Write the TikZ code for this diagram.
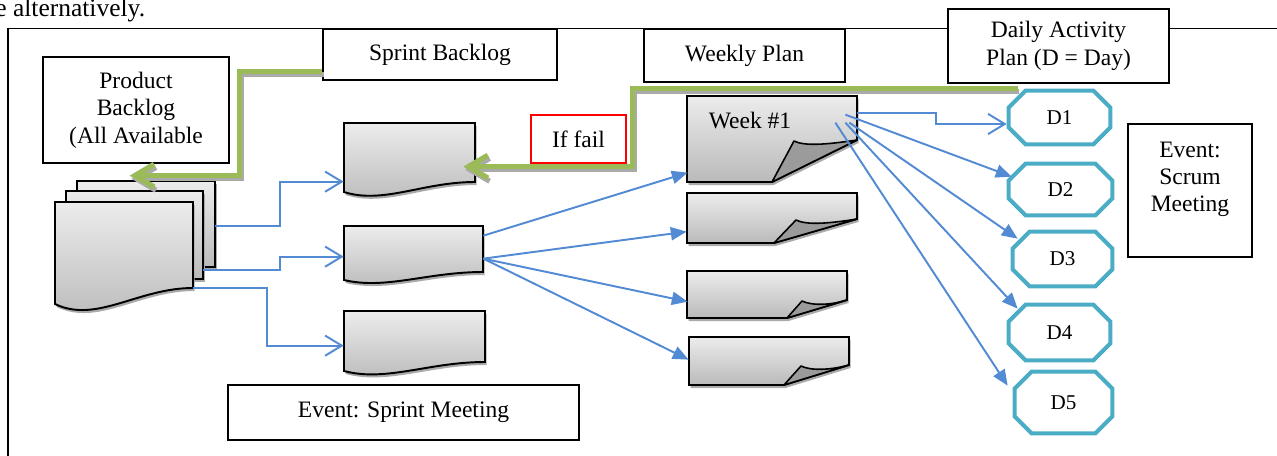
\documentclass[tikz,border=0pt]{standalone}
\usepackage{fontspec}
\setmainfont{Liberation Serif}
\usetikzlibrary{arrows.meta,fit}

\definecolor{flowblue}{RGB}{82,138,212}
\definecolor{leafgreen}{RGB}{155,187,89}
\definecolor{tealline}{RGB}{75,172,198}
\definecolor{pagetop}{RGB}{236,236,236}
\definecolor{pagebot}{RGB}{186,186,186}
\definecolor{foldgray}{RGB}{155,155,155}
\definecolor{shadowgray}{RGB}{170,170,170}

\def\chamf{17}

% plain sheet (back sheets of the stack)
\newcommand\stackpage[5]{%
  \fill[shadowgray,shift={(1.5,3)}] (#2,#3) rectangle (#4,#5);
  \path[page] (#2,#3) rectangle (#4,#5);
  \node[region,fit={(#2,#3) (#4,#5)}] (#1) {};}

% document sheet with a wavy lower edge: name, x1, y1, x2, y right bottom, y left bottom
\newcommand\wavepage[6]{%
  \pgfmathsetmacro\pgw{#4-#2}%
  \pgfmathsetmacro\pgd{#6-#5}%
  \fill[shadowgray,shift={(1.5,3)}] (#2,#3) -- (#4,#3) -- (#4,#5)
    .. controls ({#2+0.6*\pgw},#5) and ({#2+0.3*\pgw},{#6+1.25*\pgd}) .. (#2,#6) -- cycle;
  \path[page] (#2,#3) -- (#4,#3) -- (#4,#5)
    .. controls ({#2+0.6*\pgw},#5) and ({#2+0.3*\pgw},{#6+1.25*\pgd}) .. (#2,#6) -- cycle;
  \node[region,fit={(#2,#3) (#4,#6)}] (#1) {};}

% sheet with a curled lower right corner: name, x1, y1, x2, y2, y of corner cut, x of corner cut, fold tip x, y
\newcommand\foldpage[9]{%
  \fill[shadowgray,shift={(1.5,3)}] (#2,#3) -- (#4,#3) -- (#4,#6) -- (#7,#5) -- (#2,#5) -- cycle;
  \path[page] (#2,#3) -- (#4,#3) -- (#4,#6) -- (#7,#5) -- (#2,#5) -- cycle;
  \path[fold] (#7,#5) -- (#8,#9) .. controls ({#8+10},{#9+5}) and ({#8+30},{#9+4}) .. (#4,#6) -- cycle;
  \node[region,fit={(#2,#3) (#4,#5)}] (#1) {};}

% chamfered outline round a day node
\newcommand\octagon[1]{%
  \draw[octline] ([shift={(\chamf,0)}]#1.north west) -- ([shift={(-\chamf,0)}]#1.north east)
    -- ([shift={(0,\chamf)}]#1.north east) -- ([shift={(0,-\chamf)}]#1.south east)
    -- ([shift={(-\chamf,0)}]#1.south east) -- ([shift={(\chamf,0)}]#1.south west)
    -- ([shift={(0,-\chamf)}]#1.south west) -- ([shift={(0,\chamf)}]#1.north west) -- cycle;}

\begin{document}
\begin{tikzpicture}[x=0.02cm,y=-0.02cm,
  txt/.style={font=\fontsize{13.4}{15.6}\selectfont,align=center,inner sep=0},
  box/.style={txt,draw,fill=white,line width=0.6pt},
  region/.style={inner sep=0,draw=none},
  page/.style={draw,line width=1.1pt,top color=pagetop,bottom color=pagebot},
  fold/.style={draw,line width=0.9pt,fill=foldgray,line join=round},
  octline/.style={draw=tealline,line width=2.3pt},
  dnode/.style={inner sep=0,font=\fontsize{12}{14}\selectfont},
  flow/.style={draw=flowblue,line width=1.1pt},
  flowV/.style={flow,-{Straight Barb[length=9.5pt,width=11.5pt]}},
  flowT/.style={flow,-{Triangle[length=9pt,width=7.5pt]}},
  greenline/.style={draw=leafgreen,line width=3pt,-{Straight Barb[length=11pt,width=13pt]}},
  greenshade/.style={greenline,draw=shadowgray,transform canvas={xshift=1pt,yshift=-1.8pt}},
  frame/.style={draw,line width=0.8pt}]

\useasboundingbox (0,0) rectangle (1277,456);
\clip (0,0) rectangle (1277,456);

% running text above the figure frame
\node[anchor=base west,inner sep=0,font=\fontsize{14.5}{17}\selectfont] (cap) at (-5,17) {e alternatively.};

% frame
\draw[frame] (8,470) -- (8,28.5) -- (1290,28.5);

% caption boxes
\node[box,minimum width=186*0.02cm,minimum height=106*0.02cm] (pb) at (136,110) {Product\\Backlog\\(All Available};
\node[box,minimum width=234*0.02cm,minimum height=51*0.02cm] (sb) at (440,54.5) {Sprint Backlog};
\node[box,minimum width=201*0.02cm,minimum height=53*0.02cm] (wp) at (744.5,55.5) {Weekly Plan};
\node[box,minimum width=221*0.02cm,minimum height=74*0.02cm] (dap) at (1058.5,46) {Daily Activity\\Plan (D = Day)};
\node[box,minimum width=124*0.02cm,minimum height=133*0.02cm] (esm) at (1190,190.5) {Event:\\Scrum\\Meeting\\\mbox{}};
\node[box,minimum width=351*0.02cm,minimum height=55*0.02cm] (espr) at (403.5,412.5) {Event: Sprint Meeting};
\node[box,draw=red,minimum width=95*0.02cm,minimum height=48*0.02cm] (fail) at (578.5,139) {If fail};

% product backlog stack
\stackpage{bk}{77}{181}{215}{267}
\stackpage{md}{66}{191}{203}{279}
\wavepage{fr}{55}{202}{193}{288}{304}

% sprint backlog documents
\wavepage{docA}{344}{123}{475}{182}{192}
\wavepage{docB}{344}{226}{483}{272}{280}
\wavepage{docC}{344}{311}{485}{362}{371}

% weekly sheets
\foldpage{wk1}{687}{96}{857}{182}{140}{772}{794}{141}
\foldpage{wk2}{687}{193}{857}{243}{219}{774}{796}{220}
\foldpage{wk3}{687}{271}{847}{318}{300}{787}{802}{301}
\foldpage{wk4}{689}{337}{849}{385}{365}{784}{801}{366}
\node[txt] (wk1t) at (750,121) {Week \#1};

% days
\node[dnode,minimum width=101*0.02cm,minimum height=53*0.02cm] (d1) at (1059.5,117.5) {D1};
\node[dnode,minimum width=103*0.02cm,minimum height=51*0.02cm] (d2) at (1060.5,189.5) {D2};
\node[dnode,minimum width=99*0.02cm,minimum height=54*0.02cm] (d3) at (1062.5,259) {D3};
\node[dnode,minimum width=101*0.02cm,minimum height=55*0.02cm] (d4) at (1059.5,332.5) {D4};
\node[dnode,minimum width=97*0.02cm,minimum height=61*0.02cm] (d5) at (1063.5,402.5) {D5};
\octagon{d1}\octagon{d2}\octagon{d3}\octagon{d4}\octagon{d5}

% product backlog -> sprint backlog
\draw[flowV] ([shift={(0,45)}]bk.north east) -- ++(65,0) |- ([shift={(0,59)}]docA.north west);
\draw[flowV] ([shift={(0,79)}]md.north east) -- ++(77,0) |- ([shift={(0,31)}]docB.north west);
\draw[flowV] ([shift={(0,86)}]fr.north east) -- ++(74,0) |- ([shift={(0,35)}]docC.north west);

% sprint backlog -> weeks
\draw[flowT] ([shift={(0,10)}]docB.north east) -- ([shift={(1,77)}]wk1.north west);
\draw[flowT] ([shift={(0,33)}]docB.north east) -- ([shift={(0,39)}]wk2.north west);
\draw[flowT] ([shift={(0,33)}]docB.north east) -- ([shift={(1,31)}]wk3.north west);
\draw[flowT] ([shift={(0,33)}]docB.north east) -- ([shift={(0,23)}]wk4.north west);

% week -> days
\draw[flowV] ([shift={(0,17)}]wk1.north east) -- ++(79,0) |- ([shift={(-2,6.5)}]d1.west);
\draw[flowT] ([shift={(-12,19)}]wk1.north east) -- ([shift={(3,13)}]d2.north west);
\draw[flowT] ([shift={(-8,27)}]wk1.north east) -- ([shift={(5,7)}]d3.north west);
\draw[flowT] ([shift={(-12,27)}]wk1.north east) -- ([shift={(9,4)}]d4.north west);
\draw[flowT] ([shift={(-22,27)}]wk1.north east) -- ([shift={(-7,14)}]d5.north west);

% feedback paths
\draw[greenshade] ([shift={(0,-9)}]sb.south west) -- ++(-83,0) |- ([shift={(53,-5)}]bk.north west);
\draw[greenline] ([shift={(0,-9)}]sb.south west) -- ++(-83,0) |- ([shift={(53,-5)}]bk.north west);
\draw[greenshade] ([shift={(9,-2)}]d1.north west) -- ++(-385,0) |- ([shift={(-12,44)}]docA.north east);
\draw[greenline] ([shift={(9,-2)}]d1.north west) -- ++(-385,0) |- ([shift={(-12,44)}]docA.north east);

\end{tikzpicture}
\end{document}
